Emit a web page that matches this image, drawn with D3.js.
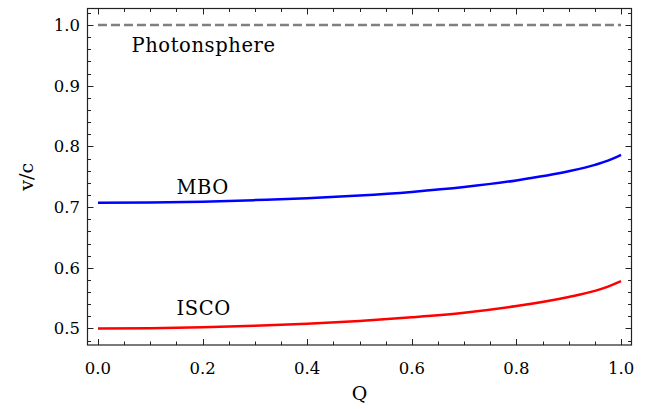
<!DOCTYPE html>
<html><head><meta charset="utf-8">
<script src="https://cdn.jsdelivr.net/npm/d3@7"></script>
<style>
body{margin:0;background:#fff;}
text{font-family:"DejaVu Serif",serif;fill:#000;}
</style></head>
<body><svg id="c" width="645" height="409"></svg>
<script>
const qValues = [0, 0.1, 0.2, 0.3, 0.4, 0.5, 0.6, 0.7, 0.8, 0.9, 0.95, 0.975, 1.0];
const mboValues = [0.707, 0.7075, 0.709, 0.7115, 0.7145, 0.719, 0.725, 0.733, 0.744, 0.759, 0.7695, 0.7765, 0.786];
const iscoValues = [0.500, 0.5005, 0.502, 0.5045, 0.508, 0.5125, 0.5185, 0.526, 0.537, 0.552, 0.562, 0.569, 0.578];
const photonValue = 1.0;
const xTicks = [0, 0.2, 0.4, 0.6, 0.8, 1.0];
const yTicks = [0.5, 0.6, 0.7, 0.8, 0.9, 1.0];
const labels = [{t:"Photonsphere", q:0.064, v:0.9555}, {t:"MBO", q:0.150, v:0.721}, {t:"ISCO", q:0.150, v:0.522}];

const svg = d3.select("#c");
const L=87.5, R=631.5, T=8.5, B=345;
const x = d3.scaleLinear().domain([-0.02, 1.02]).range([L, R]);
const y = d3.scaleLinear().domain([0.4728, 1.0272]).range([B, T]);

const line = d3.line().x((d,i)=>x(qValues[i])).y(d=>y(d)).curve(d3.curveMonotoneX);

svg.append("line").attr("x1",x(0)).attr("x2",x(1)).attr("y1",y(photonValue)).attr("y2",y(photonValue))
  .attr("stroke","#808080").attr("stroke-width",2.5).attr("stroke-dasharray","9,4");
svg.append("path").datum(mboValues).attr("d",line).attr("fill","none").attr("stroke","#0000ff").attr("stroke-width",2.5);
svg.append("path").datum(iscoValues).attr("d",line).attr("fill","none").attr("stroke","#ff0000").attr("stroke-width",2.5);

const xMinor = d3.range(0, 1.0001, 0.05).filter(v=>!xTicks.some(t=>Math.abs(t-v)<1e-6));
const yMinor = d3.range(0.48, 1.021, 0.02).filter(v=>!yTicks.some(t=>Math.abs(t-v)<1e-6));
const ax = svg.append("g").attr("stroke","#222").attr("stroke-width",1);
function tick(x1,y1,x2,y2){ax.append("line").attr("x1",x1).attr("y1",y1).attr("x2",x2).attr("y2",y2);}
xTicks.forEach(v=>{const px=Math.round(x(v))+0.5; tick(px,B,px,B-6); tick(px,T,px,T+6);});
xMinor.forEach(v=>{const px=Math.round(x(v))+0.5; tick(px,B,px,B-3.5); tick(px,T,px,T+3.5);});
yTicks.forEach(v=>{const py=Math.round(y(v))+0.5; tick(L,py,L+6,py); tick(R,py,R-6,py);});
yMinor.forEach(v=>{const py=Math.round(y(v))+0.5; tick(L,py,L+3.5,py); tick(R,py,R-3.5,py);});
svg.append("rect").attr("x",L).attr("y",T).attr("width",R-L).attr("height",B-T).attr("fill","none").attr("stroke","#222").attr("stroke-width",1.2);

const fs = 16.5;
xTicks.forEach(v=>svg.append("text").attr("x",x(v)).attr("y",374).attr("text-anchor","middle").attr("font-size",fs).text(d3.format(".1f")(v)));
yTicks.forEach(v=>svg.append("text").attr("x",80).attr("y",y(v)).attr("dy","0.36em").attr("text-anchor","end").attr("font-size",fs).text(d3.format(".1f")(v)));

svg.append("text").attr("x",(L+R)/2).attr("y",400).attr("text-anchor","middle").attr("font-size",19).text("Q");
svg.append("text").attr("transform",`translate(33,${(T+B)/2}) rotate(-90)`).attr("text-anchor","middle").attr("font-size",19).text("v/c");

labels.forEach(l=>svg.append("text").attr("x",x(l.q)).attr("y",y(l.v)).attr("font-size",19.5).attr("letter-spacing",0.6).text(l.t));
</script></body></html>
